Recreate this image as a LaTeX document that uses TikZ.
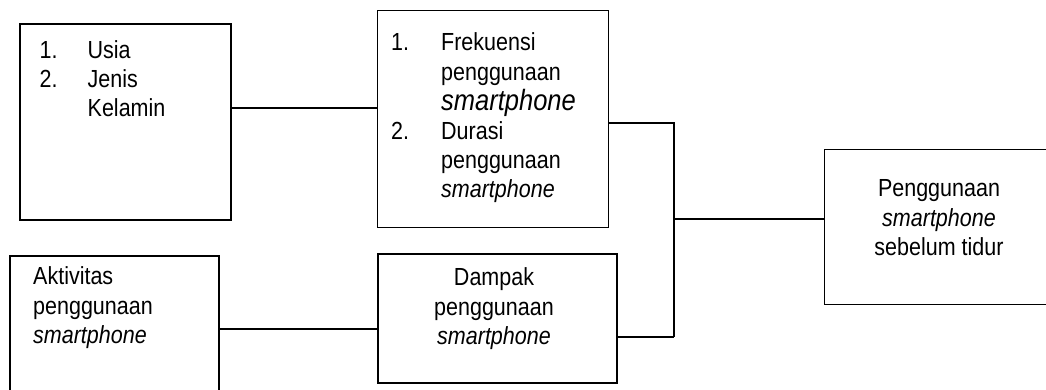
\documentclass[tikz,border=0pt]{standalone}
\usepackage{fontspec}
\setmainfont{Liberation Sans}
\usepackage{array}
\newcommand{\vst}[1]{\scalebox{1}[1.15]{#1}}
\begin{document}
\begin{tikzpicture}[x=1pt,y=1pt,
  thinbox/.style={draw, line width=1.2pt, inner sep=0pt, anchor=north west},
  thickbox/.style={draw, line width=2.2pt, inner sep=0pt, anchor=north west},
  conn/.style={line width=1.2pt},
  txt/.style={inner sep=0pt, font=\fontsize{21.5}{25.4}\selectfont}]
\useasboundingbox (0,0) rectangle (1046,390);
\clip (0,0) rectangle (1046,390);
% boxes
\node[thickbox, minimum width=211pt, minimum height=196pt] (A) at (19,367) {};
\node[thinbox, minimum width=231pt, minimum height=217pt] (B) at (377,380) {};
\node[thickbox, minimum width=209pt, minimum height=150pt] (C) at (9,135) {};
\node[thickbox, minimum width=239pt, minimum height=129pt] (D) at (377,137) {};
\node[thinbox, minimum width=240pt, minimum height=155pt] (E) at (824,241) {};
% texts
\node[txt, anchor=base west] (tA) at (39.5,331.5) {\vst{\begin{tabular}[t]{@{}p{48pt}@{}l@{}}1. & Usia\\ 2. & Jenis\\ & Kelamin\end{tabular}}};
\node[txt, anchor=base west] (tB) at (391,339) {\vst{\begin{tabular}[t]{@{}p{50pt}@{}l@{}}1. & Frekuensi\\ & penggunaan\\ & {\fontsize{25.5}{25.4}\selectfont\textit{smartphone}}\\ 2. & Durasi\\ & penggunaan\\ & \textit{smartphone}\end{tabular}}};
\node[txt, anchor=base west] (tC) at (33,105) {\vst{\begin{tabular}[t]{@{}l@{}}Aktivitas\\ penggunaan\\ \textit{smartphone}\end{tabular}}};
\node[txt, anchor=base] (tD) at (494,104) {\vst{\begin{tabular}[t]{@{}c@{}}Dampak\\ penggunaan\\ \textit{smartphone}\end{tabular}}};
\node[txt, anchor=base] (tE) at (939,193) {\vst{\begin{tabular}[t]{@{}c@{}}Penggunaan\\ \textit{smartphone}\\ sebelum tidur\end{tabular}}};
% connectors
\coordinate (j1) at (674,267);
\coordinate (j2) at (674,53);
\draw[conn] (A.east |- 0,282) -- (B.west |- 0,282);
\draw[conn] (C.east |- 0,61) -- (D.west |- 0,61);
\draw[conn] (B.east |- j1) -- (j1) -- (j2);
\draw[conn] (D.east |- j2) -- (j2);
\draw[conn] (j1 |- 0,171) -- (E.west |- 0,171);
\end{tikzpicture}
\end{document}
